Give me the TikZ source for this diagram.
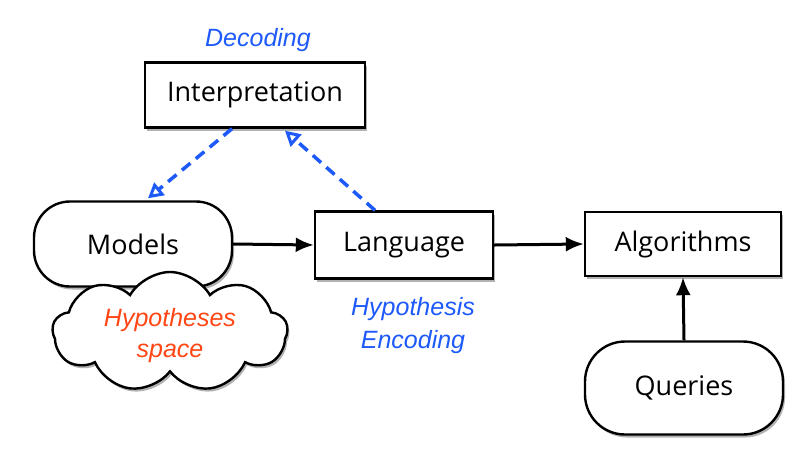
\documentclass[tikz,border=0pt]{standalone}
\usepackage{fontspec}
\setmainfont{Open Sans}
\newfontfamily\labfont{Liberation Sans}
\usetikzlibrary{shapes.symbols,shadows,arrows.meta,calc}
\definecolor{dblue}{RGB}{30,90,250}
\definecolor{horange}{RGB}{255,70,20}
\begin{document}
\begin{tikzpicture}[x=1pt,y=-1pt,
  boxtext/.style={font=\fontsize{27}{32}\selectfont},
  shad/.style={drop shadow={shadow xshift=2pt,shadow yshift=-3pt,opacity=0.3,fill=black}},
  sqbox/.style={draw,line width=2.4pt,fill=white,boxtext,shad,inner sep=0pt},
  rbox/.style={sqbox,rounded corners=36pt},
  lab/.style={font=\labfont\itshape\fontsize{25}{30}\selectfont,text=dblue,align=center},
  solidarr/.style={line width=3pt,-{Latex[length=18pt,width=15pt]}},
  dasharr/.style={dblue,line width=3.5pt,dash pattern=on 11pt off 7pt,-{Triangle[open,length=15pt,width=16pt,line width=3pt]}}
]
\useasboundingbox (0,0) rectangle (799,459);
\fill[white] (0,0) rectangle (799,459);

\node[sqbox,minimum width=220pt,minimum height=65pt] (interp) at (255,95) {Interpretation};
\node[lab] (dec) at (258,40) {Decoding};

\node[rbox,minimum width=198pt,minimum height=85pt] (models) at (133,244) {Models};
\node[draw,line width=2.4pt,fill=white,shad,cloud,cloud puffs=9,cloud puff arc=120,aspect=2,
      minimum width=235pt,minimum height=120pt,inner sep=0pt] (cloud) at (170,332) {};
\node[font=\labfont\itshape\fontsize{25}{31}\selectfont,text=horange,align=center] (hyp) at (170,336) {Hypotheses\\space};

\node[sqbox,minimum width=178pt,minimum height=67pt] (lang) at (404,245) {Language};
\node[sqbox,minimum width=196pt,minimum height=64pt] (algo) at (683,244) {Algorithms};
\node[rbox,rounded corners=40pt,minimum width=198pt,minimum height=93pt] (query) at (684,388) {Queries};

\node[lab,font=\labfont\itshape\fontsize{25}{33}\selectfont] (enc) at (413,326) {Hypothesis\\Encoding};

\draw[solidarr] (models.east) -- (lang.west);
\draw[solidarr] (lang.east) -- (algo.west);
\draw[solidarr] (query.north) -- (algo.south);

\draw[dasharr] ($(interp.south)+(-23,0)$) -- ($(models.north)+(15,-2)$);
\draw[dasharr] ($(lang.north)+(-29,0)$) -- ($(interp.south)+(30,2)$);
\end{tikzpicture}
\end{document}
